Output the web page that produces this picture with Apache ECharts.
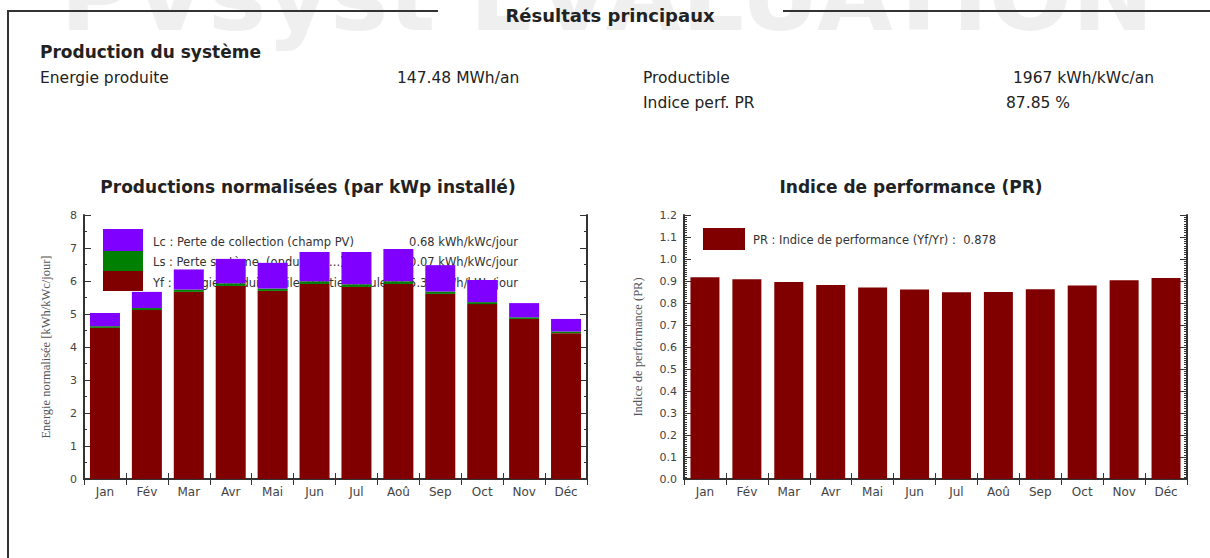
<!DOCTYPE html>
<html>
<head>
<meta charset="utf-8">
<title>Résultats principaux</title>
<script src="https://cdn.jsdelivr.net/npm/echarts@6/dist/echarts.min.js"></script>
<style>
    html, body { margin: 0; padding: 0; background: #fff; }
    #main { width: 1210px; height: 558px; }
</style>
</head>
<body>
<div id="main"></div>
<script>
// 月份
var months = ['Jan', 'Fév', 'Mar', 'Avr', 'Mai', 'Jun', 'Jul', 'Aoû', 'Sep', 'Oct', 'Nov', 'Déc'];
// Yf : énergie utile (kWh/kWc/jour)
var yfData = [4.58, 5.12, 5.67, 5.85, 5.70, 5.91, 5.82, 5.91, 5.61, 5.30, 4.85, 4.42];
// Ls : perte système
var lsData = [0.05, 0.06, 0.07, 0.08, 0.07, 0.08, 0.08, 0.08, 0.07, 0.06, 0.05, 0.05];
// Lc : perte de collection
var lcData = [0.40, 0.49, 0.61, 0.74, 0.78, 0.89, 0.98, 0.98, 0.80, 0.67, 0.43, 0.38];
// PR mensuel
var prData = [0.917, 0.908, 0.895, 0.882, 0.871, 0.861, 0.849, 0.850, 0.862, 0.880, 0.903, 0.914];
// 图例
var legendNames = ['Lc : Perte de collection (champ PV)', 'Ls : Perte système  (onduleur, ...)', 'Yf : Energie produite utile  (sortie onduleur)'];
var legendValues = ['0.68 kWh/kWc/jour', '0.07 kWh/kWc/jour', '5.39 kWh/kWc/jour'];
var prLegend = 'PR : Indice de performance (Yf/Yr) :  0.878';

var colYf = '#800000', colLs = '#008000', colLc = '#8000ff';
var SANS = '"DejaVu Sans"';
var SERIF = '"Liberation Serif"';
var axisCol = '#333';

var myChart = echarts.init(document.getElementById('main'), null, { renderer: 'svg' });

// 坐标轴 公共部分
function catAxis(grid, pos, labels) {
    return {
        type: 'category', gridIndex: grid, position: pos, data: months,
        axisLine: { lineStyle: { color: axisCol, width: 2 } },
        axisTick: { show: true, inside: true, length: 6, lineStyle: { color: axisCol } },
        axisLabel: { show: labels, color: '#444', fontFamily: SANS, fontSize: 12, margin: 7 },
        splitLine: { show: false }
    };
}
function valAxis(grid, pos, max, interval, minorN, labels, fmt, name, gap) {
    return {
        type: 'value', gridIndex: grid, position: pos, min: 0, max: max, interval: interval,
        name: name, nameLocation: 'middle', nameGap: gap,
        nameTextStyle: { fontFamily: SERIF, fontSize: 12.5, color: '#555' },
        axisLine: { show: true, lineStyle: { color: axisCol, width: 2 } },
        axisTick: { show: true, inside: true, length: 7, lineStyle: { color: axisCol } },
        minorTick: { show: true, splitNumber: minorN, length: 3, lineStyle: { color: axisCol } },
        axisLabel: { show: labels, color: '#444', fontFamily: SANS, fontSize: 11, margin: 7, formatter: fmt },
        splitLine: { show: false }
    };
}

var option = {
    animation: false,
    backgroundColor: '#fff',
    grid: [
        { left: 84, top: 215, width: 503, height: 264 },
        { left: 684, top: 215, width: 503, height: 264 }
    ],
    xAxis: [
        catAxis(0, 'bottom', true),
        catAxis(0, 'top', false),
        catAxis(1, 'bottom', true),
        catAxis(1, 'top', false)
    ],
    yAxis: [
        valAxis(0, 'left', 8, 1, 2, true, null, 'Energie normalisée [kWh/kWc/jour]', 32),
        valAxis(0, 'right', 8, 1, 2, false, null, '', 0),
        valAxis(1, 'left', 1.2, 0.1, 10, true, function(v) { return v.toFixed(1); }, 'Indice de performance (PR)', 40),
        valAxis(1, 'right', 1.2, 0.1, 10, false, null, '', 0)
    ],
    series: [
        { name: 'Yf', type: 'bar', stack: 'n', xAxisIndex: 0, yAxisIndex: 0, data: yfData, barWidth: 30, itemStyle: { color: colYf } },
        { name: 'Ls', type: 'bar', stack: 'n', xAxisIndex: 0, yAxisIndex: 0, data: lsData, barWidth: 30, itemStyle: { color: colLs } },
        { name: 'Lc', type: 'bar', stack: 'n', xAxisIndex: 0, yAxisIndex: 0, data: lcData, barWidth: 30, itemStyle: { color: colLc } },
        { name: 'PR', type: 'bar', xAxisIndex: 2, yAxisIndex: 2, data: prData, barWidth: 29, itemStyle: { color: colYf } }
    ],
    graphic: [
        // 水印
        { type: 'text', x: 607, y: -4, z: -10, style: { text: 'PVsyst EVALUATION', font: 'bold 98px ' + SANS, fill: '#efefef', textAlign: 'center', textVerticalAlign: 'middle' } },
        // 外框
        { type: 'polyline', z: 1, shape: { points: [[438, 11], [8, 11], [8, 558]] }, style: { stroke: '#333', lineWidth: 2, fill: null } },
        { type: 'line', z: 1, shape: { x1: 783, y1: 11, x2: 1210, y2: 11 }, style: { stroke: '#333', lineWidth: 2 } },
        { type: 'text', x: 610, y: 15, z: 1, style: { text: 'Résultats principaux', font: 'bold 18px ' + SANS, fill: '#222', textAlign: 'center', textVerticalAlign: 'middle' } },
        // 系统产量
        { type: 'text', x: 40, y: 52, z: 1, style: { text: 'Production du système', font: 'bold 17px ' + SANS, fill: '#222', textVerticalAlign: 'middle' } },
        { type: 'text', x: 40, y: 78, z: 1, style: { text: 'Energie produite', font: '15.5px ' + SANS, fill: '#222', textVerticalAlign: 'middle' } },
        { type: 'text', x: 397, y: 78, z: 1, style: { text: '147.48 MWh/an', font: '15.5px ' + SANS, fill: '#222', textVerticalAlign: 'middle' } },
        { type: 'text', x: 643, y: 78, z: 1, style: { text: 'Productible', font: '15.5px ' + SANS, fill: '#222', textVerticalAlign: 'middle' } },
        { type: 'text', x: 1013, y: 78, z: 1, style: { text: '1967 kWh/kWc/an', font: '15.5px ' + SANS, fill: '#222', textVerticalAlign: 'middle' } },
        { type: 'text', x: 643, y: 103, z: 1, style: { text: 'Indice perf. PR', font: '15.5px ' + SANS, fill: '#222', textVerticalAlign: 'middle' } },
        { type: 'text', x: 1006, y: 103, z: 1, style: { text: '87.85 %', font: '15.5px ' + SANS, fill: '#222', textVerticalAlign: 'middle' } },
        // 图表标题
        { type: 'text', x: 308, y: 187, z: 1, style: { text: 'Productions normalisées (par kWp installé)', font: 'bold 17px ' + SANS, fill: '#222', textAlign: 'center', textVerticalAlign: 'middle' } },
        { type: 'text', x: 911, y: 187, z: 1, style: { text: 'Indice de performance (PR)', font: 'bold 17px ' + SANS, fill: '#222', textAlign: 'center', textVerticalAlign: 'middle' } },
        // 左图 图例
        { type: 'rect', z: 0, shape: { x: 103, y: 229, width: 40, height: 22 }, style: { fill: colLc } },
        { type: 'rect', z: 0, shape: { x: 103, y: 251, width: 40, height: 20 }, style: { fill: colLs } },
        { type: 'rect', z: 0, shape: { x: 103, y: 271, width: 40, height: 20 }, style: { fill: colYf } },
        { type: 'text', x: 153, y: 242, z: 0, style: { text: legendNames[0], font: '11.5px ' + SANS, fill: '#333', textVerticalAlign: 'middle' } },
        { type: 'text', x: 153, y: 262, z: 0, style: { text: legendNames[1], font: '11.5px ' + SANS, fill: '#333', textVerticalAlign: 'middle' } },
        { type: 'text', x: 153, y: 283, z: 0, style: { text: legendNames[2], font: '11.5px ' + SANS, fill: '#333', textVerticalAlign: 'middle' } },
        { type: 'text', x: 518, y: 242, z: 0, style: { text: legendValues[0], font: '11.5px ' + SANS, fill: '#333', textAlign: 'right', textVerticalAlign: 'middle' } },
        { type: 'text', x: 518, y: 262, z: 0, style: { text: legendValues[1], font: '11.5px ' + SANS, fill: '#333', textAlign: 'right', textVerticalAlign: 'middle' } },
        { type: 'text', x: 518, y: 283, z: 0, style: { text: legendValues[2], font: '11.5px ' + SANS, fill: '#333', textAlign: 'right', textVerticalAlign: 'middle' } },
        // 右图 图例
        { type: 'rect', z: 0, shape: { x: 703, y: 228, width: 42, height: 22 }, style: { fill: colYf } },
        { type: 'text', x: 753, y: 240, z: 0, style: { text: prLegend, font: '11.5px ' + SANS, fill: '#333', textVerticalAlign: 'middle' } }
    ]
};
myChart.setOption(option);
</script>
</body>
</html>
